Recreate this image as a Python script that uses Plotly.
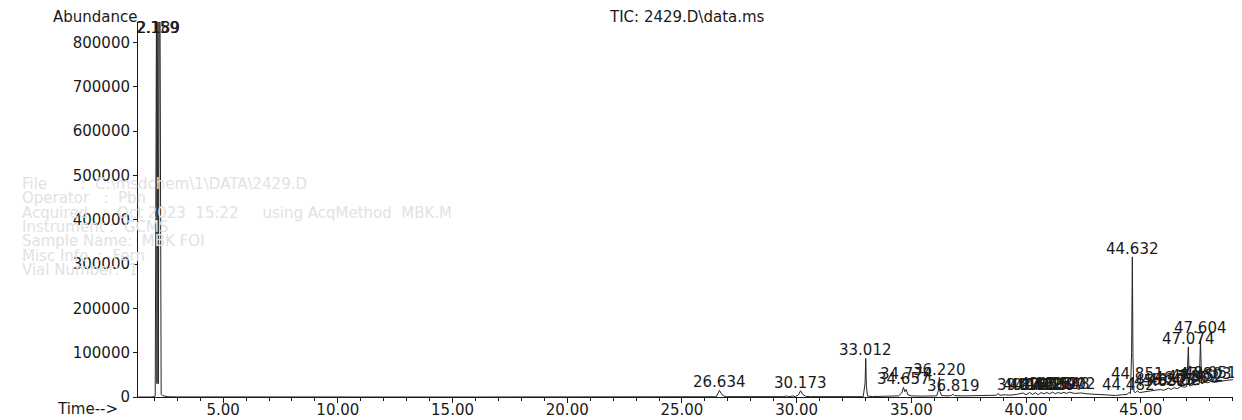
import plotly.graph_objects as go

# ---------------- data ----------------
# chromatogram baseline / shoulder points (time in min, abundance)
base_time = [1.29, 1.90, 2.04, 2.07, 2.10, 2.115, 2.13, 2.145, 2.175, 2.205, 2.22, 2.245,
             2.27, 2.30, 2.36, 2.45, 2.60, 3.00, 4.00, 8.0, 12.0, 16.0, 20.0, 24.0, 25.5,
             26.50, 26.58, 26.70, 26.80, 26.95, 28.0, 29.45, 29.55, 29.65, 29.85, 29.95,
             30.08, 30.26, 30.40, 30.6, 31.4, 31.5, 31.6, 32.9, 32.98, 33.04, 33.09, 33.3,
             33.7, 34.1, 34.45, 34.58, 34.71, 34.85, 35.0, 35.4, 35.7, 36.10, 36.18, 36.25,
             36.32, 36.6, 36.75, 36.88, 37.3, 37.8, 38.2, 38.5, 38.7, 38.8, 38.85, 39.1,
             39.3, 39.6, 40.0, 40.28, 40.53, 40.78, 41.02, 41.27, 41.52, 41.77, 42.1, 42.4,
             42.7, 43.0, 43.3, 43.6, 43.9, 44.2, 44.40, 44.55, 44.60, 44.66, 44.70, 44.78,
             44.95, 45.2, 45.5, 46.0, 46.33, 46.6, 46.9, 47.0, 47.12, 47.2, 47.38, 47.55,
             47.65, 47.93, 48.2, 48.4, 48.6, 48.8, 49.02]
base_abund = [0, 0, 2000, 950000, 950000, 30000, 950000, 30000, 30000, 30000, 950000, 950000,
              20000, 6000, 3000, 1500, 600, 200, 0, 0, 0, 0, 0, 0, 300,
              600, 9000, 9000, 2500, 800, 500, 800, 2500, 900, 2200, 900,
              5000, 6000, 1500, 800, 700, 1800, 700, 800, 30000, 25000, 2000, 1000,
              1400, 1500, 2500, 9000, 12000, 5000, 2500, 2000, 1800, 2500, 15000, 12000,
              3000, 2500, 3500, 3000, 2500, 3000, 3500, 4500, 4000, 8000, 4000, 5000,
              4000, 6000, 5000, 6000, 5000, 7000, 7000, 7500, 8000, 8000, 8000, 9000,
              7000, 6000, 4000, 3000, 3500, 5000, 6000, 8000, 100000, 90000, 12000, 10000,
              10000, 12000, 13000, 15000, 17000, 19000, 22000, 24000, 25000, 26000, 27000, 30000,
              30000, 32000, 33000, 35000, 36000, 38000, 39000]

# integrated peaks (retention time, apex abundance)
peak_rt = [2.159, 2.189, 26.634, 30.173, 33.012, 34.657, 34.774, 36.220, 36.819,
           39.874, 40.153, 40.412, 40.655, 40.898, 41.152, 41.397, 41.648, 41.902,
           44.482, 44.632, 44.851, 45.852, 46.205, 46.452, 46.748, 47.074, 47.302,
           47.452, 47.604, 47.803, 48.051]
peak_abund = [950000, 950000, 15000, 14000, 87000, 22000, 17000, 44000, 6000,
              9000, 10000, 9500, 10000, 10500, 11000, 10000, 10500, 11000,
              10000, 316000, 14000, 17000, 20000, 21000, 24000, 113000, 28000,
              30000, 130000, 33000, 35000]

x_ticks = [5, 10, 15, 20, 25, 30, 35, 40, 45]
y_ticks = [0, 100000, 200000, 300000, 400000, 500000, 600000, 700000, 800000]

header_lines = ["File       :  C:\\msdchem\\1\\DATA\\2429.D",
                "Operator   :  Pbn",
                "Acquired   :  Oct 2023  15:22     using AcqMethod  MBK.M",
                "Instrument :  GCMS",
                "Sample Name:  MBK FOI",
                "Misc Info  :  Fern",
                "Vial Number:  1"]

# ---------------- figure ----------------
X_RANGE = [1.29, 49.02]
Y_MAX = 846000
FONT = "DejaVu Sans"
INK = "#1a1a1a"
FS = 15

pts = sorted(zip(base_time + peak_rt, base_abund + peak_abund))
tt = [p[0] for p in pts]
aa = [p[1] for p in pts]

fig = go.Figure()
fig.add_trace(go.Scatter(x=tt, y=aa, mode="lines",
                         line=dict(color="#262626", width=1), hoverinfo="skip",
                         showlegend=False))

OFF = 8  # page body margin in the browser
W, H = 1242 - OFF, 420 - OFF
# target plot box in window pixels: left 138, right 1233, top 22, bottom 397
L, T = 138 - OFF, 22 - OFF
R = OFF + W - 1233
B = OFF + H - 397
pw, ph = W - L - R, H - T - B

def px_to_paper(px, py):
    return (px - OFF - L) / pw, (OFF + H - B - py) / ph

ann = []
# faint ghost header text (scan bleed)
for i, s in enumerate(header_lines):
    xp, yp = px_to_paper(20, 184 + i * 14.3)
    ann.append(dict(text=s, x=xp, y=yp, xref="paper", yref="paper", xanchor="left",
                    yanchor="middle", showarrow=False,
                    font=dict(family=FONT, size=15, color="#e2e2e2")))

lift = {"34.774": 7, "44.851": 9, "47.604": 3}
for rt, ab in zip(peak_rt, peak_abund):
    lab = f"{rt:.3f}"
    if ab >= Y_MAX:
        ann.append(dict(text=lab, x=rt, y=Y_MAX, xref="x", yref="y", yanchor="top",
                        yshift=5, showarrow=False,
                        font=dict(family=FONT, size=FS, color=INK)))
    else:
        ann.append(dict(text=lab, x=rt, y=ab, xref="x", yref="y", yanchor="bottom",
                        yshift=-3 + lift.get(lab, 0), showarrow=False,
                        font=dict(family=FONT, size=FS, color=INK)))

xp, yp = px_to_paper(52, 17.5)
ann.append(dict(text="Abundance", x=xp, y=yp, xref="paper", yref="paper",
                xanchor="left", yanchor="middle", showarrow=False, borderpad=0,
                font=dict(family=FONT, size=FS, color=INK)))
xp, yp = px_to_paper(55, 409)
ann.append(dict(text="Time-->", x=xp, y=yp, xref="paper", yref="paper",
                xanchor="left", yanchor="middle", showarrow=False,
                font=dict(family=FONT, size=FS, color=INK)))
xp, yp = px_to_paper(608, 17.5)
ann.append(dict(text="TIC: 2429.D\\data.ms", x=xp, y=yp, xref="paper", yref="paper",
                xanchor="left", yanchor="middle", showarrow=False, borderpad=0,
                font=dict(family=FONT, size=FS, color=INK)))

fig.update_layout(
    width=W, height=H,
    margin=dict(l=L, r=R, t=T, b=B, autoexpand=False),
    paper_bgcolor="white", plot_bgcolor="white",
    annotations=ann,
    xaxis=dict(range=X_RANGE, tickvals=x_ticks, automargin=False,
               ticktext=[f"{v:.2f}" for v in x_ticks],
               showgrid=False, zeroline=False, showline=True, linecolor=INK, linewidth=1,
               ticks="outside", ticklen=5, tickcolor=INK, ticklabelstandoff=-6,
               minor=dict(dtick=1, tick0=0, ticks="outside", ticklen=3, tickcolor=INK,
                          showgrid=False),
               tickfont=dict(family=FONT, size=FS, color=INK)),
    yaxis=dict(range=[0, Y_MAX], tickvals=y_ticks, ticktext=[str(v) for v in y_ticks],
               automargin=False,
               showgrid=False, zeroline=False, showline=True, linecolor=INK, linewidth=1,
               ticks="outside", ticklen=4, tickcolor=INK,
               tickfont=dict(family=FONT, size=FS, color=INK)),
)

fig.write_html("out.html")
